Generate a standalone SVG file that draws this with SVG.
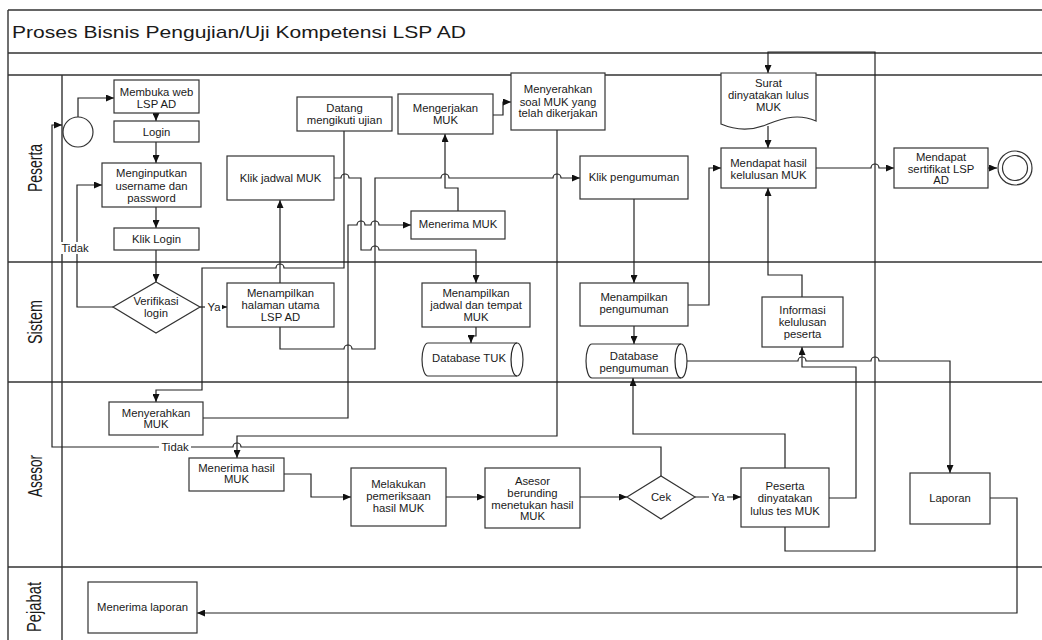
<svg xmlns="http://www.w3.org/2000/svg" width="1042" height="640" viewBox="0 0 1042 640">
<defs>
<marker id="arr" markerWidth="8" markerHeight="7" refX="8" refY="3.5" orient="auto" markerUnits="userSpaceOnUse"><path d="M0,0 L8,3.5 L0,7 z" fill="#111"/></marker>
</defs>
<style>
.pool{fill:none;stroke:#333;stroke-width:1.4}
.box{fill:#fff;stroke:#333;stroke-width:1.2}
.t{font-family:"Liberation Sans",Arial,sans-serif;font-size:11.3px;fill:#1a1a1a;text-anchor:middle}
.c{fill:none;stroke:#222;stroke-width:1.2}
.ca{fill:none;stroke:#222;stroke-width:1.2;marker-end:url(#arr)}
.lane{font-family:"Liberation Sans",Arial,sans-serif;font-size:20px;fill:#1a1a1a;text-anchor:middle}
.title{font-family:"Liberation Sans",Arial,sans-serif;font-size:17px;fill:#1a1a1a}
.lbl{fill:#fff;stroke:none}
</style>
<rect x="0" y="0" width="1042" height="640" fill="#fff"/>
<g id="pool">
<path class="pool" d="M8,10 H1042 M8,53 H1042 M8,75 H1042 M8,262 H1042 M8,382 H1042 M8,567 H1042 M8,10 V640 M62,75 V640"/>
<text class="title" x="12" y="37.5" textLength="454" lengthAdjust="spacingAndGlyphs">Proses Bisnis Pengujian/Uji Kompetensi LSP AD</text>
<text class="lane" transform="translate(42,168) rotate(-90)" textLength="48" lengthAdjust="spacingAndGlyphs">Peserta</text>
<text class="lane" transform="translate(42,322) rotate(-90)" textLength="44" lengthAdjust="spacingAndGlyphs">Sistem</text>
<text class="lane" transform="translate(42,476) rotate(-90)" textLength="42" lengthAdjust="spacingAndGlyphs">Asesor</text>
<text class="lane" transform="translate(41,607) rotate(-90)" textLength="50" lengthAdjust="spacingAndGlyphs">Pejabat</text>
</g>
<g id="connectors">
<path class="ca" d="M78,117 V98 H114"/>
<path class="ca" d="M156,113 V121"/>
<path class="ca" d="M156,142 V163"/>
<path class="ca" d="M156,207 V228"/>
<path class="ca" d="M156,250 V282"/>
<path class="ca" d="M113,307 H77 V185 H102"/>
<path class="ca" d="M200,307 H227"/>
<path class="ca" d="M280,283 V200"/>
<path class="ca" d="M334,178 H341 a4,4 0 0 1 8,0 H361 V250 H371 a4,4 0 0 1 8,0 H476 V283"/>
<path class="ca" d="M344,131 V268 H284 a4,4 0 0 0 -8,0 H202 V390 H156 V402"/>
<path class="ca" d="M203,418 H348 V225 H357 a4,4 0 0 1 8,0 H371 a4,4 0 0 1 8,0 H411"/>
<path class="ca" d="M280,327 V349 H344 a4,4 0 0 1 8,0 H375 V178 H441 a4,4 0 0 1 8,0 H553 a4,4 0 0 1 8,0 H580"/>
<path class="ca" d="M458,211 V188 H445 V134"/>
<path class="ca" d="M493,115 H503 V102 H511"/>
<path class="ca" d="M557,130 V436 H237 V458"/>
<path class="ca" d="M634,199 V283"/>
<path class="ca" d="M634,326 V344"/>
<path class="ca" d="M476,327 V336 H471 V343"/>
<path class="ca" d="M688,305 H709 V168 H721"/>
<path class="ca" d="M768,126 V148"/>
<path class="ca" d="M816,168 H871 a4,4 0 0 1 8,0 H894"/>
<path class="ca" d="M988,168 H997"/>
<path class="ca" d="M687,361 H798 a4,4 0 0 1 8,0 H871 a4,4 0 0 1 8,0 H950 V473"/>
<path class="ca" d="M802,297 V275 H768 V188"/>
<path class="ca" d="M829,498 H856 V367 H802 V347"/>
<path class="ca" d="M785,527 V551 H875 V52 H768 V73"/>
<path class="ca" d="M785,468 V434 H633 V378"/>
<path class="ca" d="M284,474 H311 V497 H351"/>
<path class="ca" d="M446,497 H485"/>
<path class="ca" d="M580,497 H627"/>
<path class="ca" d="M695,497 H741"/>
<path class="ca" d="M661,476 V447 H241 a4,4 0 0 0 -8,0 H52 V125 H62"/>
<path class="ca" d="M990,498 H1017 V613 H197"/>
<rect class="lbl" x="60" y="242" width="30" height="12"/>
<text class="t" x="75" y="252">Tidak</text>
<rect class="lbl" x="205" y="301" width="17" height="12"/>
<text class="t" x="214" y="311">Ya</text>
<rect class="lbl" x="159" y="441" width="32" height="12"/>
<text class="t" x="175" y="451">Tidak</text>
<rect class="lbl" x="709" y="491" width="18" height="12"/>
<text class="t" x="718" y="501">Ya</text>
</g>
<g id="start"><circle class="box" cx="78" cy="132" r="15"/></g>
<g id="membuka"><rect class="box" x="114" y="80" width="85" height="33"/><text class="t" x="156.5" y="96">Membuka web</text><text class="t" x="156.5" y="108">LSP AD</text></g>
<g id="login"><rect class="box" x="114" y="121" width="85" height="21"/><text class="t" x="156.5" y="135.5">Login</text></g>
<g id="menginputkan"><rect class="box" x="102" y="163" width="99" height="44"/><text class="t" x="151.5" y="177">Menginputkan</text><text class="t" x="151.5" y="189.5">username dan</text><text class="t" x="151.5" y="201.5">password</text></g>
<g id="kliklogin"><rect class="box" x="114" y="228" width="85" height="22"/><text class="t" x="156.5" y="243">Klik Login</text></g>
<g id="klikjadwal"><rect class="box" x="227" y="156" width="107" height="44"/><text class="t" x="280.5" y="182">Klik jadwal MUK</text></g>
<g id="datang"><rect class="box" x="297" y="97" width="95" height="34"/><text class="t" x="344.5" y="112">Datang</text><text class="t" x="344.5" y="124">mengikuti ujian</text></g>
<g id="mengerjakan"><rect class="box" x="398" y="94" width="95" height="40"/><text class="t" x="445.5" y="112">Mengerjakan</text><text class="t" x="445.5" y="124">MUK</text></g>
<g id="menyerahkansoal"><rect class="box" x="511" y="73" width="94" height="57"/><text class="t" x="558" y="93">Menyerahkan</text><text class="t" x="558" y="105.5">soal MUK yang</text><text class="t" x="558" y="117">telah dikerjakan</text></g>
<g id="klikpengumuman"><rect class="box" x="580" y="156" width="108" height="43"/><text class="t" x="634" y="181">Klik pengumuman</text></g>
<g id="menerimamuk"><rect class="box" x="411" y="211" width="94" height="28"/><text class="t" x="458" y="228">Menerima MUK</text></g>
<g id="surat"><path class="box" d="M721,73 H816 V121 C800,114 785,117 768,124 C752,131 735,130 721,124 Z"/><text class="t" x="768.5" y="87">Surat</text><text class="t" x="768.5" y="99">dinyatakan lulus</text><text class="t" x="768.5" y="111">MUK</text></g>
<g id="mendapathasil"><rect class="box" x="721" y="148" width="95" height="40"/><text class="t" x="768.5" y="167">Mendapat hasil</text><text class="t" x="768.5" y="178.5">kelulusan MUK</text></g>
<g id="sertifikat"><rect class="box" x="894" y="148" width="94" height="40"/><text class="t" x="941" y="161">Mendapat</text><text class="t" x="941" y="172.5">sertifikat LSP</text><text class="t" x="941" y="184">AD</text></g>
<g id="end"><circle class="box" cx="1015" cy="168" r="17"/><circle class="box" cx="1015" cy="168" r="12.5"/></g>
<g id="verifikasi"><polygon class="box" points="113,307 156,282 200,307 156,333"/><text class="t" x="156" y="305">Verifikasi</text><text class="t" x="156" y="317">login</text></g>
<g id="halamanutama"><rect class="box" x="227" y="283" width="107" height="44"/><text class="t" x="280.5" y="297">Menampilkan</text><text class="t" x="280.5" y="309">halaman utama</text><text class="t" x="280.5" y="321">LSP AD</text></g>
<g id="menampilkanjadwal"><rect class="box" x="422" y="283" width="108" height="44"/><text class="t" x="476" y="297">Menampilkan</text><text class="t" x="476" y="309">jadwal dan tempat</text><text class="t" x="476" y="321">MUK</text></g>
<g id="dbtuk"><path class="box" d="M428,343 H517 A6,16.5 0 0 1 517,376 H428 A6,16.5 0 0 1 428,343 Z"/><path class="c" d="M517,343 A6,16.5 0 0 0 517,376"/><text class="t" x="469" y="362">Database TUK</text></g>
<g id="menampilkanpengumuman"><rect class="box" x="580" y="283" width="108" height="43"/><text class="t" x="634" y="301">Menampilkan</text><text class="t" x="634" y="313">pengumuman</text></g>
<g id="dbpengumuman"><path class="box" d="M592,344 H681 A6,17 0 0 1 681,378 H592 A6,17 0 0 1 592,344 Z"/><path class="c" d="M681,344 A6,17 0 0 0 681,378"/><text class="t" x="634" y="360">Database</text><text class="t" x="634" y="372">pengumuman</text></g>
<g id="informasi"><rect class="box" x="762" y="297" width="81" height="50"/><text class="t" x="802.5" y="314">Informasi</text><text class="t" x="802.5" y="326">kelulusan</text><text class="t" x="802.5" y="337.5">peserta</text></g>
<g id="menyerahkanmuk"><rect class="box" x="109" y="402" width="94" height="33"/><text class="t" x="156" y="417">Menyerahkan</text><text class="t" x="156" y="427.5">MUK</text></g>
<g id="menerimahasil"><rect class="box" x="189" y="458" width="95" height="33"/><text class="t" x="236.5" y="472">Menerima hasil</text><text class="t" x="236.5" y="482.5">MUK</text></g>
<g id="melakukan"><rect class="box" x="351" y="468" width="95" height="58"/><text class="t" x="398.5" y="488">Melakukan</text><text class="t" x="398.5" y="500">pemeriksaan</text><text class="t" x="398.5" y="511.5">hasil MUK</text></g>
<g id="asesorberunding"><rect class="box" x="485" y="468" width="95" height="60"/><text class="t" x="532.5" y="485">Asesor</text><text class="t" x="532.5" y="497">berunding</text><text class="t" x="532.5" y="508.5">menetukan hasil</text><text class="t" x="532.5" y="520">MUK</text></g>
<g id="cek"><polygon class="box" points="627,497 661,476 695,497 661,519"/><text class="t" x="661" y="501">Cek</text></g>
<g id="pesertalulus"><rect class="box" x="741" y="468" width="88" height="59"/><text class="t" x="785" y="490">Peserta</text><text class="t" x="785" y="502">dinyatakan</text><text class="t" x="785" y="514.5">lulus tes MUK</text></g>
<g id="laporan"><rect class="box" x="910" y="473" width="80" height="51"/><text class="t" x="950" y="502">Laporan</text></g>
<g id="menerimalaporan"><rect class="box" x="88" y="582" width="109" height="51"/><text class="t" x="142.5" y="611">Menerima laporan</text></g>
</svg>
